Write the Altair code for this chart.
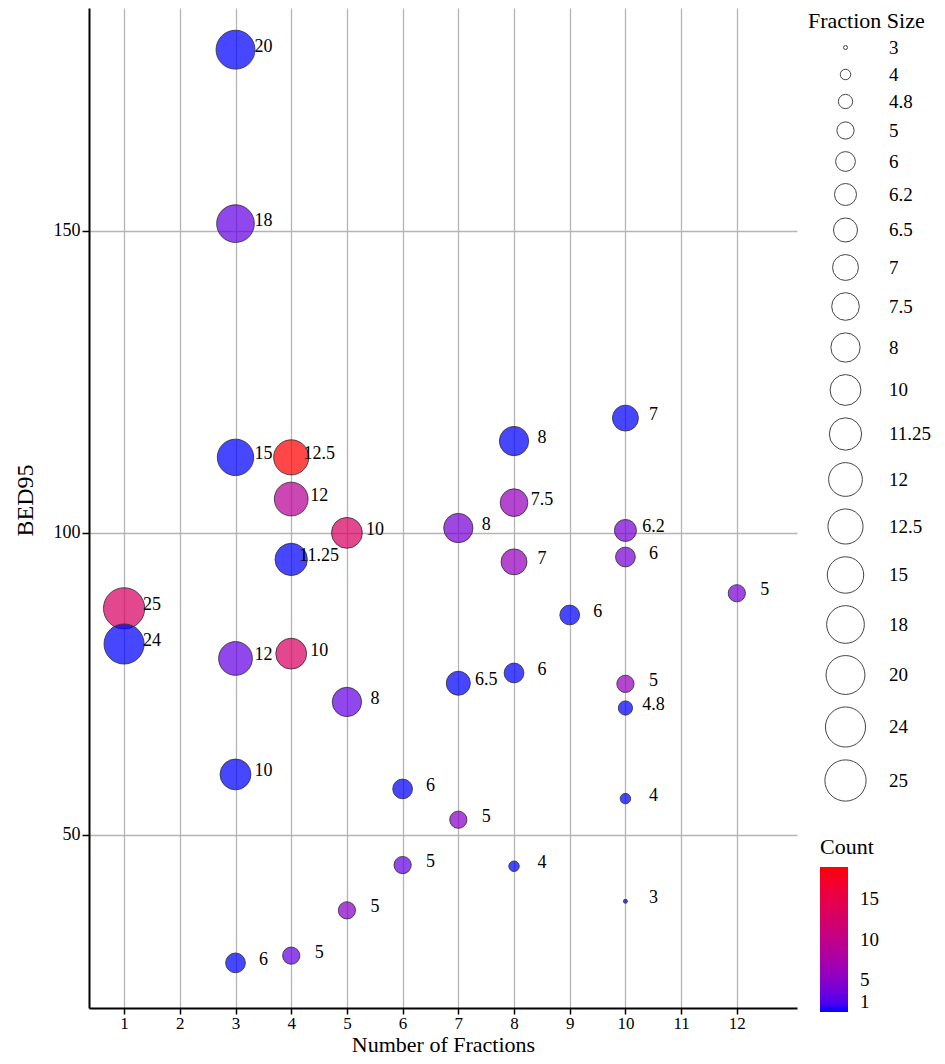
import altair as alt
import pandas as pd

# ---- data ----
fractions = [3, 3, 3, 4, 4, 5, 4, 1, 1, 3, 4, 5, 3, 6, 6, 5, 3, 4,
             10, 8, 8, 7, 10, 8, 10, 12, 9, 7, 8, 10, 10, 7, 10, 8, 10]
bed95 = [180.0, 151.2, 112.5, 112.5, 105.6, 100.0, 95.6, 87.5, 81.6, 79.2, 80.0, 72.0,
         60.0, 57.6, 45.0, 37.5, 28.8, 30.0,
         119.0, 115.2, 105.0, 100.8, 100.4, 95.2, 96.0, 90.0, 86.4, 75.1, 76.8, 75.0,
         71.0, 52.5, 56.0, 44.8, 39.0]
fraction_size = [20, 18, 15, 12.5, 12, 10, 11.25, 25, 24, 12, 10, 8, 10, 6, 5, 5, 6, 5,
                 7, 8, 7.5, 8, 6.2, 7, 6, 5, 6, 6.5, 6, 5, 4.8, 5, 4, 4, 3]
count = [1, 3, 1, 19, 9, 13, 1, 13, 1, 3, 13, 3, 1, 1, 3, 5, 1, 3,
         1, 1, 6, 4, 4, 6, 4, 4, 1, 1, 1, 6, 1, 5, 1, 1, 1]
x_ticks = [1, 2, 3, 4, 5, 6, 7, 8, 9, 10, 11, 12]
y_ticks = [50, 100, 150]
count_ticks = [1, 5, 10, 15]

df = pd.DataFrame({
    "fractions": fractions,
    "bed95": bed95,
    "size": fraction_size,
    "count": count,
    "label": [format(s, "g") for s in fraction_size],
})

FONT = "Liberation Serif"

base = alt.Chart(df)

points = base.mark_circle(
    stroke="#333333", strokeWidth=1, fillOpacity=0.72, strokeOpacity=0.85
).encode(
    x=alt.X("fractions:Q",
            scale=alt.Scale(domain=[0.37, 13.08], nice=False, zero=False),
            axis=alt.Axis(values=x_ticks, format="d", title="Number of Fractions",
                          tickSize=6, labelPadding=1, labelFontSize=17,
                          titleFontSize=22, titleY=43.5, titleBaseline="alphabetic")),
    y=alt.Y("bed95:Q",
            scale=alt.Scale(domain=[21.33, 186.9], nice=False, zero=False),
            axis=alt.Axis(values=y_ticks, title="BED95", titleFontSize=24,
                          titleX=-57, titleY=492, titleBaseline="alphabetic",
                          titleAngle=270, titleAlign="center")),
    size=alt.Size("size:O",
                  scale=alt.Scale(type="point", range=[16, 1700], padding=0),
                  legend=alt.Legend(title="Fraction Size", orient="none",
                                    legendX=719, legendY=3,
                                    symbolFillColor="white", symbolStrokeColor="#444444",
                                    symbolStrokeWidth=1, symbolOpacity=1,
                                    rowPadding=7, titlePadding=5,
                                    symbolOffset=16, labelOffset=22)),
    color=alt.Color("count:Q",
                    scale=alt.Scale(domain=[1, 19], range=["#0000ff", "#ff0000"],
                                    interpolate="lab"),
                    legend=alt.Legend(title="Count", orient="none",
                                      legendX=731, legendY=829,
                                      direction="vertical",
                                      gradientLength=145, gradientThickness=28,
                                      values=count_ticks, titlePadding=8,
                                      labelOffset=12)),
)

labels = base.mark_text(
    dx=28, dy=-3, align="center", baseline="middle",
    font=FONT, fontSize=18, color="black"
).encode(
    x="fractions:Q",
    y="bed95:Q",
    text="label:N",
)

chart = alt.layer(points, labels).properties(
    width=708, height=1000,
    autosize=alt.AutoSizeParams(type="none"),
    padding={"left": 81, "top": 0, "right": 140, "bottom": 48},
).configure(
    font=FONT
).configure_view(
    stroke=None
).configure_axis(
    domainColor="black", domainWidth=2,
    tickColor="black", tickWidth=1.5, tickSize=7,
    labelFont=FONT, labelFontSize=18, labelColor="black", labelPadding=2,
    titleFont=FONT, titleFontWeight="normal", titleColor="black",
    gridColor="#b5b5b5", gridWidth=1.3,
).configure_legend(
    labelFont=FONT, labelFontSize=19, labelColor="black",
    titleFont=FONT, titleFontSize=22, titleFontWeight="normal", titleColor="black",
)

chart.save("out.html", embed_options={"renderer": "svg", "actions": False})
